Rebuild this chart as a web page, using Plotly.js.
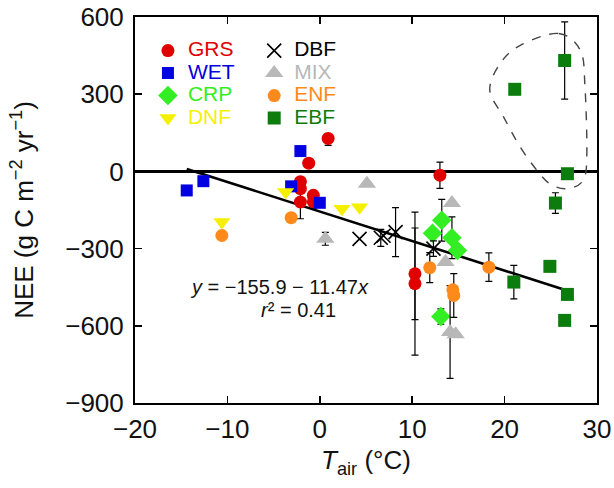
<!DOCTYPE html>
<html>
<head>
<meta charset="utf-8">
<script src="https://cdn.plot.ly/plotly-3.0.1.min.js"></script>
<style>html,body{margin:0;padding:0;background:#fff}#chart{width:614px;height:488px}</style>
</head>
<body>
<div id="chart"></div>
<script>
// ---- data ----
const grsX = [0.9, -1.2, -2.1, -2.1, -2.1, -0.7, -0.7, 13.0, 10.3, 10.3];
const grsY = [128, 32, -40, -67, -119, -93, -118, -15, -398, -436];
const grsErrPlus = [0, NaN, NaN, NaN, 65, NaN, 25, 51, 178, 278];
const grsErrMinus = [27, NaN, NaN, NaN, 65, NaN, 25, 51, 178, 278];

const wetX = [-14.4, -12.6, -2.1, -3.1, 0.0];
const wetY = [-74, -38, 79, -58, -122];

const crpX = [13.2, 12.2, 14.3, 14.9, 13.1];
const crpY = [-190, -240, -258, -307, -564];
const crpErr = [81, NaN, 81, NaN, 30];

const dnfX = [-10.6, -3.7, 2.4, 4.3];
const dnfY = [-197, -80, -145, -139];

const dbfX = [4.3, 6.6, 6.9, 8.2, 12.3];
const dbfY = [-262, -258, -250, -236, -300];
const dbfErr = [NaN, 33, NaN, 95, 30];

const mixX = [5.1, 0.6, 14.3, 13.6, 14.1, 14.7];
const mixY = [-48, -262, -123, -352, -624, -633];
const mixErr = [NaN, 25, NaN, NaN, 180, NaN];

const enfX = [-10.6, -3.1, 11.9, 14.4, 14.5, 18.3];
const enfY = [-249, -180, -374, -460, -482, -372];
const enfErr = [NaN, NaN, 58, NaN, 85, 55];

const ebfX = [21.1, 26.5, 26.8, 25.5, 24.9, 21.0, 26.8, 26.5];
const ebfY = [319, 431, -9, -123, -369, -430, -478, -579];
const ebfErr = [NaN, 150, NaN, 40, NaN, 65, NaN, NaN];

const fitIntercept = -155.9;
const fitSlope = -11.47;
const fitXRange = [-14.4, 26.4];

const outlineX = [25.8, 21.7, 19.5, 18.4, 19.9, 21.7, 23.5, 24.9, 26.7, 28.5, 28.9, 28.7, 28.2];
const outlineY = [536, 490, 418, 315, 211, 94, 4, -48, -67, -35, 69, 328, 470];

// ---- helpers ----
const FONT = 'Liberation Sans, Arial, Helvetica, sans-serif';
function errBar(plus, minus) {
  return {type: 'data', symmetric: false, array: plus, arrayminus: minus || plus,
          color: '#000', thickness: 1.2, width: 3.5, visible: true};
}
function series(name, color, x, y, symbol, size, legend, errP, errM, extra) {
  const t = {
    type: 'scatter', mode: 'markers', x: x, y: y,
    name: '<span style="color:' + color + ';font-size:21px">' + name + '</span>',
    legend: legend,
    marker: Object.assign({symbol: symbol, size: size, color: color, line: {width: 0}}, extra || {})
  };
  if (errP) t.error_y = errBar(errP, errM);
  return t;
}
function closedSpline(xs, ys) {
  const n = xs.length;
  let p = 'M' + xs[0] + ',' + ys[0];
  for (let i = 0; i < n; i++) {
    const i0 = (i - 1 + n) % n, i1 = i, i2 = (i + 1) % n, i3 = (i + 2) % n;
    const c1x = xs[i1] + (xs[i2] - xs[i0]) / 6, c1y = ys[i1] + (ys[i2] - ys[i0]) / 6;
    const c2x = xs[i2] - (xs[i3] - xs[i1]) / 6, c2y = ys[i2] - (ys[i3] - ys[i1]) / 6;
    p += ' C' + c1x + ',' + c1y + ' ' + c2x + ',' + c2y + ' ' + xs[i2] + ',' + ys[i2];
  }
  return p + ' Z';
}

const fitY = fitXRange.map(x => fitIntercept + fitSlope * x);

const traces = [
  {type: 'scatter', mode: 'lines', x: fitXRange, y: fitY, showlegend: false,
   line: {color: '#000', width: 2.6}, hoverinfo: 'skip'},
  series('GRS', '#e00000', grsX, grsY, 'circle', 13, 'legend', grsErrPlus, grsErrMinus),
  series('WET', '#0000e0', wetX, wetY, 'square', 12, 'legend'),
  series('CRP', '#33ee22', crpX, crpY, 'diamond', 15, 'legend', crpErr),
  series('DNF', '#f5f000', dnfX, dnfY, 'triangle-down', 15, 'legend'),
  series('DBF', '#000000', dbfX, dbfY, 'x-thin-open', 14, 'legend2', dbfErr, null, {line: {width: 1.6, color: '#111'}}),
  series('MIX', '#b8b8b8', mixX, mixY, 'triangle-up', 16, 'legend2', mixErr),
  series('ENF', '#ff8a1c', enfX, enfY, 'circle', 13, 'legend2', enfErr),
  series('EBF', '#0c7d0c', ebfX, ebfY, 'square', 13, 'legend2', ebfErr)
];

const axisCommon = {
  showline: true, linecolor: '#000', linewidth: 2, mirror: 'ticks',
  ticks: 'inside', ticklen: 7, tickwidth: 1.5, tickcolor: '#000',
  showgrid: false, tickfont: {family: FONT, size: 26, color: '#111'}
};

const legendCommon = {
  orientation: 'v', xanchor: 'left', yanchor: 'top', bgcolor: 'rgba(0,0,0,0)',
  font: {family: FONT, size: 15}, traceorder: 'normal', borderwidth: 0
};

const layout = {
  width: 614, height: 488,
  margin: {l: 135, r: 17, t: 17, b: 85, pad: 0},
  paper_bgcolor: '#fff', plot_bgcolor: '#fff',
  font: {family: FONT, color: '#111'},
  xaxis: Object.assign({}, axisCommon, {
    range: [-20, 30], dtick: 10, tick0: 0, zeroline: false,
    ticklabelstandoff: 2,
    title: {text: '<i>T</i><sub>air</sub> (°C)', font: {family: FONT, size: 26, color: '#111'}, standoff: 8}
  }),
  yaxis: Object.assign({}, axisCommon, {
    range: [-900, 600], dtick: 300, tick0: 0,
    zeroline: true, zerolinecolor: '#000', zerolinewidth: 2.2,
    ticklabelstandoff: 4,
    title: {text: 'NEE (g C m<sup>−2</sup> yr<sup>−1</sup>)', font: {family: FONT, size: 26, color: '#111'}, standoff: 24}
  }),
  legend: Object.assign({}, legendCommon, {x: 0.028, y: 0.955}),
  legend2: Object.assign({}, legendCommon, {x: 0.258, y: 0.955}),
  shapes: [{
    type: 'path', xref: 'x', yref: 'y', path: closedSpline(outlineX, outlineY),
    line: {color: '#444', width: 1.4, dash: 'dash'}, fillcolor: 'rgba(0,0,0,0)'
  }],
  annotations: [
    {xref: 'x', yref: 'y', x: -4.4, y: -451, showarrow: false,
     text: '<i>y</i> = −155.9 − 11.47<i>x</i>', font: {family: FONT, size: 20, color: '#111'}},
    {xref: 'x', yref: 'y', x: -2.3, y: -540, showarrow: false,
     text: '<i>r</i>² = 0.41', font: {family: FONT, size: 20, color: '#111'}}
  ]
};

Plotly.newPlot('chart', traces, layout, {staticPlot: true, displayModeBar: false});
</script>
</body>
</html>
